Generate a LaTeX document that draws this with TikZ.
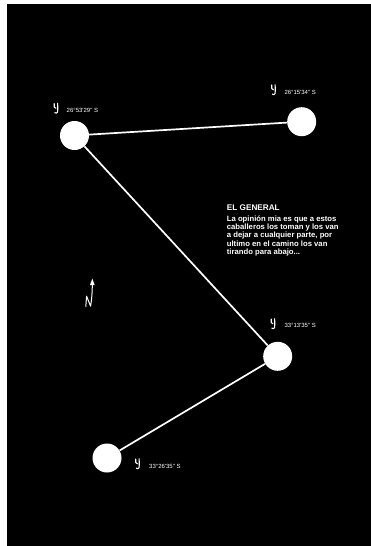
\documentclass[tikz,border=0pt]{standalone}
\usepackage{fontspec}
\newfontfamily\labfont{Liberation Sans}
\usetikzlibrary{arrows.meta}
\tikzset{
  stop/.style={circle,fill=white,draw=none,minimum size=29pt,inner sep=0pt},
  route/.style={white,line width=1.7pt},
  coordlab/.style={anchor=west,text=white,inner sep=0pt,font=\labfont\fontsize{6}{7}\selectfont},
  glyph/.style={white,line width=1.1pt,line cap=round,line join=round},
}
\newcommand{\ysym}[2]{%
  \draw[glyph] (#1-2.8,#2-4.5) .. controls (#1-3.2,#2-2) and (#1-3,#2+0.8) .. (#1-1,#2+0.3);
  \draw[glyph] (#1+0.6,#2-4.8) .. controls (#1+0.8,#2-1) and (#1+0.9,#2+2) .. (#1+0.6,#2+4)
     .. controls (#1+0.4,#2+5.6) and (#1-1.6,#2+5.4) .. (#1-2.2,#2+4.6);
}
\begin{document}
\begin{tikzpicture}[x=1pt,y=-1pt]
\useasboundingbox (0,0) rectangle (371,546);
\fill[white] (0,0) rectangle (371,546);
\fill[black] (7,4) rectangle (371,546);

\node[stop] (A) at (74.5,135.5) {};
\node[stop] (B) at (301.7,121.7) {};
\node[stop] (C) at (277.7,356.3) {};
\node[stop] (D) at (107,458) {};

\draw[route] (A) -- (B);
\draw[route] (A) -- (C);
\draw[route] (C) -- (D);

\ysym{57}{108}
\ysym{274.5}{89.5}
\ysym{274}{323.5}
\ysym{138.5}{463.5}

\node[coordlab] (la) at (66.5,110.5) {26°53\textquotesingle29\textquotedbl\ S};
\node[coordlab] (lb) at (284.3,92) {26°15\textquotesingle34\textquotedbl\ S};
\node[coordlab] (lc) at (284.3,325.3) {33°13\textquotesingle35\textquotedbl\ S};
\node[coordlab] (ld) at (149,466.3) {33°26\textquotesingle35\textquotedbl\ S};

\node[anchor=base west,text=white,inner sep=0pt,
      font=\labfont\bfseries\fontsize{8.2}{10}\selectfont] (head) at (226.7,210) {EL GENERAL};
\node[anchor=north west,text=white,inner sep=0pt,align=left,
      font=\labfont\bfseries\fontsize{7.7}{8.35}\selectfont] (body) at (226.7,215.2)
 {La opinión mia es que a estos\\
  caballeros los toman y los van\\
  a dejar a cualquier parte, por\\
  ultimo en el camino los van\\
  tirando para abajo...};

% north arrow
\draw[glyph,line width=1pt] (85.8,306.5) -- (86.6,296.2) -- (90.6,306.2)
   .. controls (91.6,300) and (92.4,292) .. (92.3,282);
\fill[white] (92.3,278.6) -- (94.6,285) -- (90,285) -- cycle;
\end{tikzpicture}
\end{document}
